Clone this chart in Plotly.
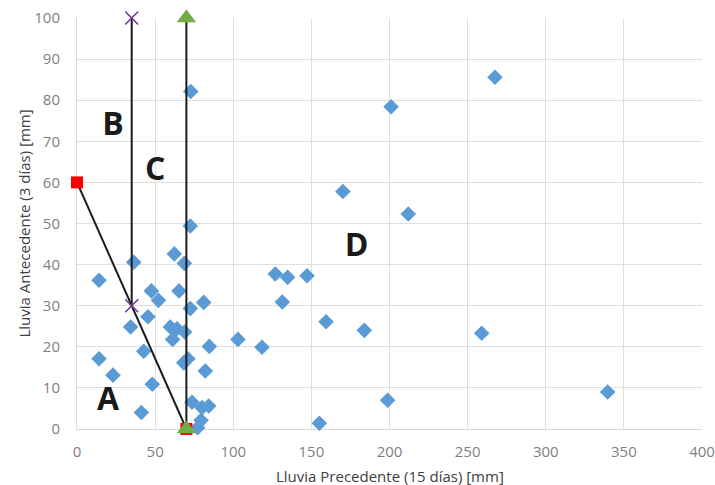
import plotly.graph_objects as go

# Observed events
x_obs = [72.8, 72.5, 62.3, 36.3, 68.7, 14.1, 47.6, 65.3, 52.1, 81.1, 72.5, 45.4,
         34.3, 59.7, 64.0, 68.9, 61.2, 103.0, 84.7, 42.7, 14.1, 71.0, 68.3, 82.1,
         23.0, 48.2, 73.6, 80.0, 84.3, 41.2, 79.4, 77.2, 170.2, 212.0, 126.9,
         134.8, 147.2, 131.4, 159.4, 183.9, 118.4, 198.8, 155.1, 201.0, 267.5,
         339.6, 259.0]
y_obs = [82.1, 49.4, 42.6, 40.6, 40.3, 36.2, 33.6, 33.6, 31.3, 30.8, 29.3, 27.3,
         24.8, 24.8, 24.4, 23.6, 21.8, 21.8, 20.1, 18.9, 17.1, 17.1, 16.1, 14.1,
         13.1, 10.9, 6.5, 5.2, 5.6, 4.0, 2.1, 0.3, 57.8, 52.3, 37.7,
         36.9, 37.3, 30.9, 26.1, 24.0, 19.9, 7.0, 1.4, 78.4, 85.6,
         9.0, 23.3]

# Threshold boundaries
sq_x = [0, 70]
sq_y = [60, 0]
xm_x = [35, 35]
xm_y = [30, 100]
tri_x = [70, 70]
tri_y = [0, 100]

# Zone labels
zone_text = ["A", "B", "C", "D"]
zone_x = [19.8, 23, 50, 179]
zone_y = [6.5, 73.5, 62.6, 44]

x_title = "Lluvia Precedente (15 días) [mm]"
y_title = "Lluvia Antecedente (3 días) [mm]"

fig = go.Figure()
fig.add_trace(go.Scatter(x=x_obs, y=y_obs, mode="markers", cliponaxis=False,
                         marker=dict(symbol="diamond", size=12, color="#5B9BD5"),
                         showlegend=False))
fig.add_trace(go.Scatter(x=sq_x, y=sq_y, mode="lines+markers", cliponaxis=False,
                         line=dict(color="#1a1a1a", width=2),
                         marker=dict(symbol="square", size=12, color="#FF0000"),
                         showlegend=False))
fig.add_trace(go.Scatter(x=xm_x, y=xm_y, mode="lines+markers", cliponaxis=False,
                         line=dict(color="#1a1a1a", width=2),
                         marker=dict(symbol="x-thin-open", size=13, color="#7030A0",
                                     line=dict(color="#7030A0", width=1.5)),
                         showlegend=False))
fig.add_trace(go.Scatter(x=tri_x, y=tri_y, mode="lines+markers", cliponaxis=False,
                         line=dict(color="#1a1a1a", width=2),
                         marker=dict(symbol="triangle-up", size=17, color="#70AD47"),
                         showlegend=False))
fig.add_trace(go.Scatter(x=zone_x, y=zone_y, mode="text", text=zone_text,
                         cliponaxis=False,
                         textfont=dict(family="Open Sans", size=32, color="#1a1a1a",
                                       weight="bold"),
                         showlegend=False))

fig.update_layout(
    width=715, height=485,
    margin=dict(l=77, r=13, t=18, b=56),
    plot_bgcolor="white", paper_bgcolor="white",
    font=dict(family="Open Sans", size=15, color="#595959"),
)
fig.add_annotation(text=x_title, xref="paper", yref="paper", x=0.5, y=0,
                   xanchor="center", yanchor="middle", yshift=-47, showarrow=False,
                   font=dict(size=15, color="#404040"))
fig.add_annotation(text=y_title, xref="paper", yref="paper", x=0, y=0.5,
                   xanchor="center", yanchor="middle", xshift=-54, textangle=-90,
                   showarrow=False, font=dict(size=15, color="#404040"))
fig.update_xaxes(range=[0, 400], dtick=50, showgrid=True, gridcolor="#DEDEDE",
                 zeroline=False, showline=True, linecolor="#D9D9D9",
                 automargin=False, layer="below traces", ticklabeloverflow="allow",
                 ticks="outside", ticklen=9, tickcolor="rgba(0,0,0,0)",
                 tickfont=dict(size=15, color="#7f7f7f"))
fig.update_yaxes(range=[0, 100], dtick=10, showgrid=True, gridcolor="#DEDEDE",
                 zeroline=False, showline=True, linecolor="#D9D9D9",
                 automargin=False, layer="below traces", ticklabeloverflow="allow",
                 ticks="outside", ticklen=13, tickcolor="rgba(0,0,0,0)",
                 tickfont=dict(size=15, color="#7f7f7f"))

fig.write_html("out.html", config={"displayModeBar": False},
               post_script="document.body.style.margin='0';"
                           "document.body.style.overflow='hidden';")
